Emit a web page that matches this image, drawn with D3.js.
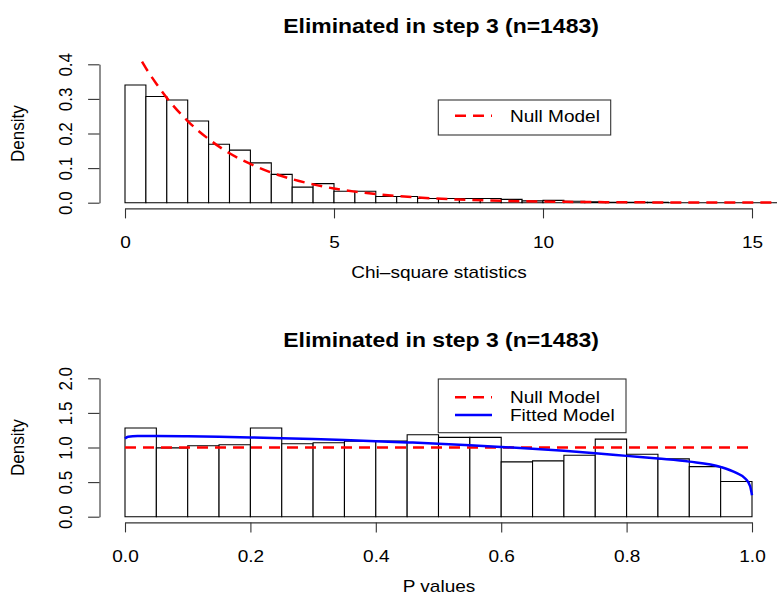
<!DOCTYPE html>
<html>
<head>
<meta charset="utf-8">
<script src="https://cdn.jsdelivr.net/npm/d3@7"></script>
<style>
  body { margin: 0; background: #fff; }
  svg { display: block; }
</style>
</head>
<body>
<svg id="chart" width="777" height="595"></svg>
<script>
// ---- data ----
const titleText = "Eliminated in step 3 (n=1483)";

// top panel: chi-square statistics histogram (density)
const chiBreaks = [0, 0.5, 1, 1.5, 2, 2.5, 3, 3.5, 4, 4.5, 5, 5.5, 6, 6.5, 7, 7.5, 8,
  8.5, 9, 9.5, 10, 10.5, 11, 11.5, 12, 12.5, 13, 13.5, 14, 14.5, 15, 15.5, 16];
const chiDensity = [0.340, 0.307, 0.297, 0.236, 0.169, 0.152, 0.115, 0.082, 0.045, 0.055,
  0.033, 0.033, 0.018, 0.018, 0.012, 0.012, 0.012, 0.012, 0.0095, 0.0054,
  0.0067, 0.0040, 0.0027, 0.0013, 0.0013, 0.0013, 0, 0, 0, 0, 0, 0];
const chiNullX = [0, 0.25, 0.5, 0.75, 1, 1.5, 2, 2.5, 3, 3.5, 4, 4.5, 5, 5.5, 6, 7, 8, 9, 10, 11, 12, 13, 14, 15, 16];
const chiNullY = [0.50, 0.441, 0.389, 0.344, 0.303, 0.236, 0.184, 0.143, 0.112, 0.087, 0.068, 0.053,
  0.041, 0.032, 0.025, 0.015, 0.009, 0.0056, 0.0034, 0.002, 0.0012, 0.0008, 0.0005, 0.0003, 0.0002];
const chiXTicks = [0, 5, 10, 15];
const chiYTicks = [0, 0.1, 0.2, 0.3, 0.4];

// bottom panel: p values histogram (density)
const pBreaks = [0, 0.05, 0.1, 0.15, 0.2, 0.25, 0.3, 0.35, 0.4, 0.45, 0.5,
  0.55, 0.6, 0.65, 0.7, 0.75, 0.8, 0.85, 0.9, 0.95, 1];
const pDensity = [1.281, 0.995, 1.025, 1.039, 1.281, 1.054, 1.068, 1.092, 1.092, 1.185,
  1.146, 1.146, 0.792, 0.806, 0.888, 1.121, 0.902, 0.835, 0.723, 0.509];
const pNullX = [0, 1];
const pNullY = [1, 1];
const pFitX = [0, 0.005, 0.02, 0.05, 0.1, 0.15, 0.2, 0.25, 0.3, 0.35, 0.4, 0.45, 0.5, 0.55,
  0.6, 0.65, 0.7, 0.75, 0.8, 0.85, 0.9, 0.95, 0.975, 0.99, 0.997, 1];
const pFitY = [1.13, 1.155, 1.165, 1.166, 1.162, 1.155, 1.146, 1.135, 1.122, 1.108, 1.092, 1.074,
  1.055, 1.033, 1.009, 0.983, 0.953, 0.918, 0.879, 0.84, 0.796, 0.719, 0.632, 0.545, 0.44, 0.31];
const pXTicks = [0, 0.2, 0.4, 0.6, 0.8, 1];
const pYTicks = [0, 0.5, 1, 1.5, 2];

// ---- drawing ----
const SX = 1.12; // the original image is stretched a bit horizontally
const FONT = "'Liberation Sans', Arial, Helvetica, sans-serif";
const svg = d3.select("#chart");
svg.append("rect").attr("width", 777).attr("height", 595).attr("fill", "#fff");

function addText(g, txt, x, y, size, opts = {}) {
  const t = g.append("text")
    .attr("transform", `translate(${x},${y}) scale(${SX},1)` + (opts.rotate ? " rotate(-90)" : ""))
    .attr("text-anchor", opts.anchor || "middle")
    .attr("font-family", FONT)
    .attr("font-size", size)
    .attr("fill", "#000")
    .text(txt);
  if (opts.bold) t.attr("font-weight", "bold");
  return t;
}

function drawPanel(cfg) {
  const g = svg.append("g").attr("transform", `translate(0,${cfg.dy})`);

  const x = d3.scaleLinear().domain(cfg.xDomain).range([125, 752]);
  const y = d3.scaleLinear().domain(cfg.yDomain).range([202.7, 64.3]);

  const clipId = "clip" + cfg.dy;
  g.append("clipPath").attr("id", clipId)
    .append("rect").attr("x", 100).attr("y", 58.8).attr("width", 677).attr("height", 149.7);

  const plot = g.append("g").attr("clip-path", `url(#${clipId})`);

  // histogram bars (as outlined paths so empty bins still show on the baseline)
  const bins = cfg.density.map((d, i) => ({ x0: cfg.breaks[i], x1: cfg.breaks[i + 1], d }));
  plot.selectAll("path.bar")
    .data(bins)
    .enter().append("path")
    .attr("class", "bar")
    .attr("d", b => `M${x(b.x0)},${y(0)}V${y(b.d)}H${x(b.x1)}V${y(0)}Z`)
    .attr("fill", "#fff")
    .attr("stroke", "#000")
    .attr("stroke-width", 1.1);

  // model curves
  cfg.curves.forEach(c => {
    const pts = c.xs.map((v, i) => [v, c.ys[i]]);
    plot.append("path")
      .datum(pts)
      .attr("d", d3.line().x(p => x(p[0])).y(p => y(p[1])).curve(d3.curveMonotoneX))
      .attr("fill", "none")
      .attr("stroke", c.color)
      .attr("stroke-width", 2.5)
      .attr("stroke-dasharray", c.dash || null);
  });

  // axes
  const xAxis = g.append("g")
    .attr("transform", "translate(0,208.4)")
    .call(d3.axisBottom(x).tickValues(cfg.xTicks).tickFormat(cfg.xFormat).tickSize(10).tickSizeOuter(0));
  xAxis.selectAll("text")
    .attr("y", 39.6).attr("dy", null)
    .attr("transform", `scale(${SX},1)`)
    .attr("font-family", FONT).attr("font-size", 17).attr("fill", "#000");

  const yAxis = g.append("g")
    .attr("transform", "translate(99.5,0)")
    .call(d3.axisLeft(y).tickValues(cfg.yTicks).tickFormat(cfg.yFormat).tickSize(11.4).tickSizeOuter(0));
  yAxis.selectAll("text")
    .attr("x", null).attr("dy", null)
    .attr("text-anchor", "middle")
    .attr("transform", `translate(-27.8,0) scale(${SX},1) rotate(-90)`)
    .attr("font-family", FONT).attr("font-size", 17).attr("fill", "#000");

  [xAxis, yAxis].forEach(a => {
    a.select(".domain").attr("stroke", "#333").attr("stroke-width", 1.1);
    a.selectAll(".tick line").attr("stroke", "#333").attr("stroke-width", 1.1);
  });

  // titles
  addText(g, titleText, 441, 32.5, 20.5, { bold: true });
  addText(g, cfg.xLabel, 439, 277.5, 17);
  addText(g, "Density", 24, 133.6, 17, { rotate: true });

  // legend
  const lg = g.append("g");
  lg.append("rect")
    .attr("x", 438.3).attr("y", cfg.legendBox[0])
    .attr("width", cfg.legendBox[2]).attr("height", cfg.legendBox[1] - cfg.legendBox[0])
    .attr("fill", "#fff").attr("stroke", "#333").attr("stroke-width", 1.1);
  cfg.legend.forEach((item, i) => {
    const ly = cfg.legendRow0 + i * 17.7;
    lg.append("line")
      .attr("x1", 455).attr("x2", 492).attr("y1", ly).attr("y2", ly)
      .attr("stroke", item.color).attr("stroke-width", 2.5)
      .attr("stroke-dasharray", item.dash || null);
    addText(lg, item.label, 510, ly + 6, 17, { anchor: "start" });
  });
}

drawPanel({
  dy: 0,
  xDomain: [0, 15], yDomain: [0, 0.4],
  breaks: chiBreaks, density: chiDensity,
  curves: [{ xs: chiNullX, ys: chiNullY, color: "#ff0000", dash: "11,7" }],
  xTicks: chiXTicks, xFormat: d3.format("d"),
  yTicks: chiYTicks, yFormat: d3.format(".1f"),
  xLabel: "Chi\u2013square statistics",
  legendBox: [100, 135, 172.4], legendRow0: 115.7,
  legend: [{ label: "Null Model", color: "#ff0000", dash: "11,7" }]
});

drawPanel({
  dy: 314,
  xDomain: [0, 1], yDomain: [0, 2],
  breaks: pBreaks, density: pDensity,
  curves: [
    { xs: pNullX, ys: pNullY, color: "#ff0000", dash: "11,7" },
    { xs: pFitX, ys: pFitY, color: "#0000ff" }
  ],
  xTicks: pXTicks, xFormat: d3.format(".1f"),
  yTicks: pYTicks, yFormat: d3.format(".1f"),
  xLabel: "P values",
  legendBox: [65, 118.7, 187.7], legendRow0: 83.3,
  legend: [
    { label: "Null Model", color: "#ff0000", dash: "11,7" },
    { label: "Fitted Model", color: "#0000ff" }
  ]
});
</script>
</body>
</html>
